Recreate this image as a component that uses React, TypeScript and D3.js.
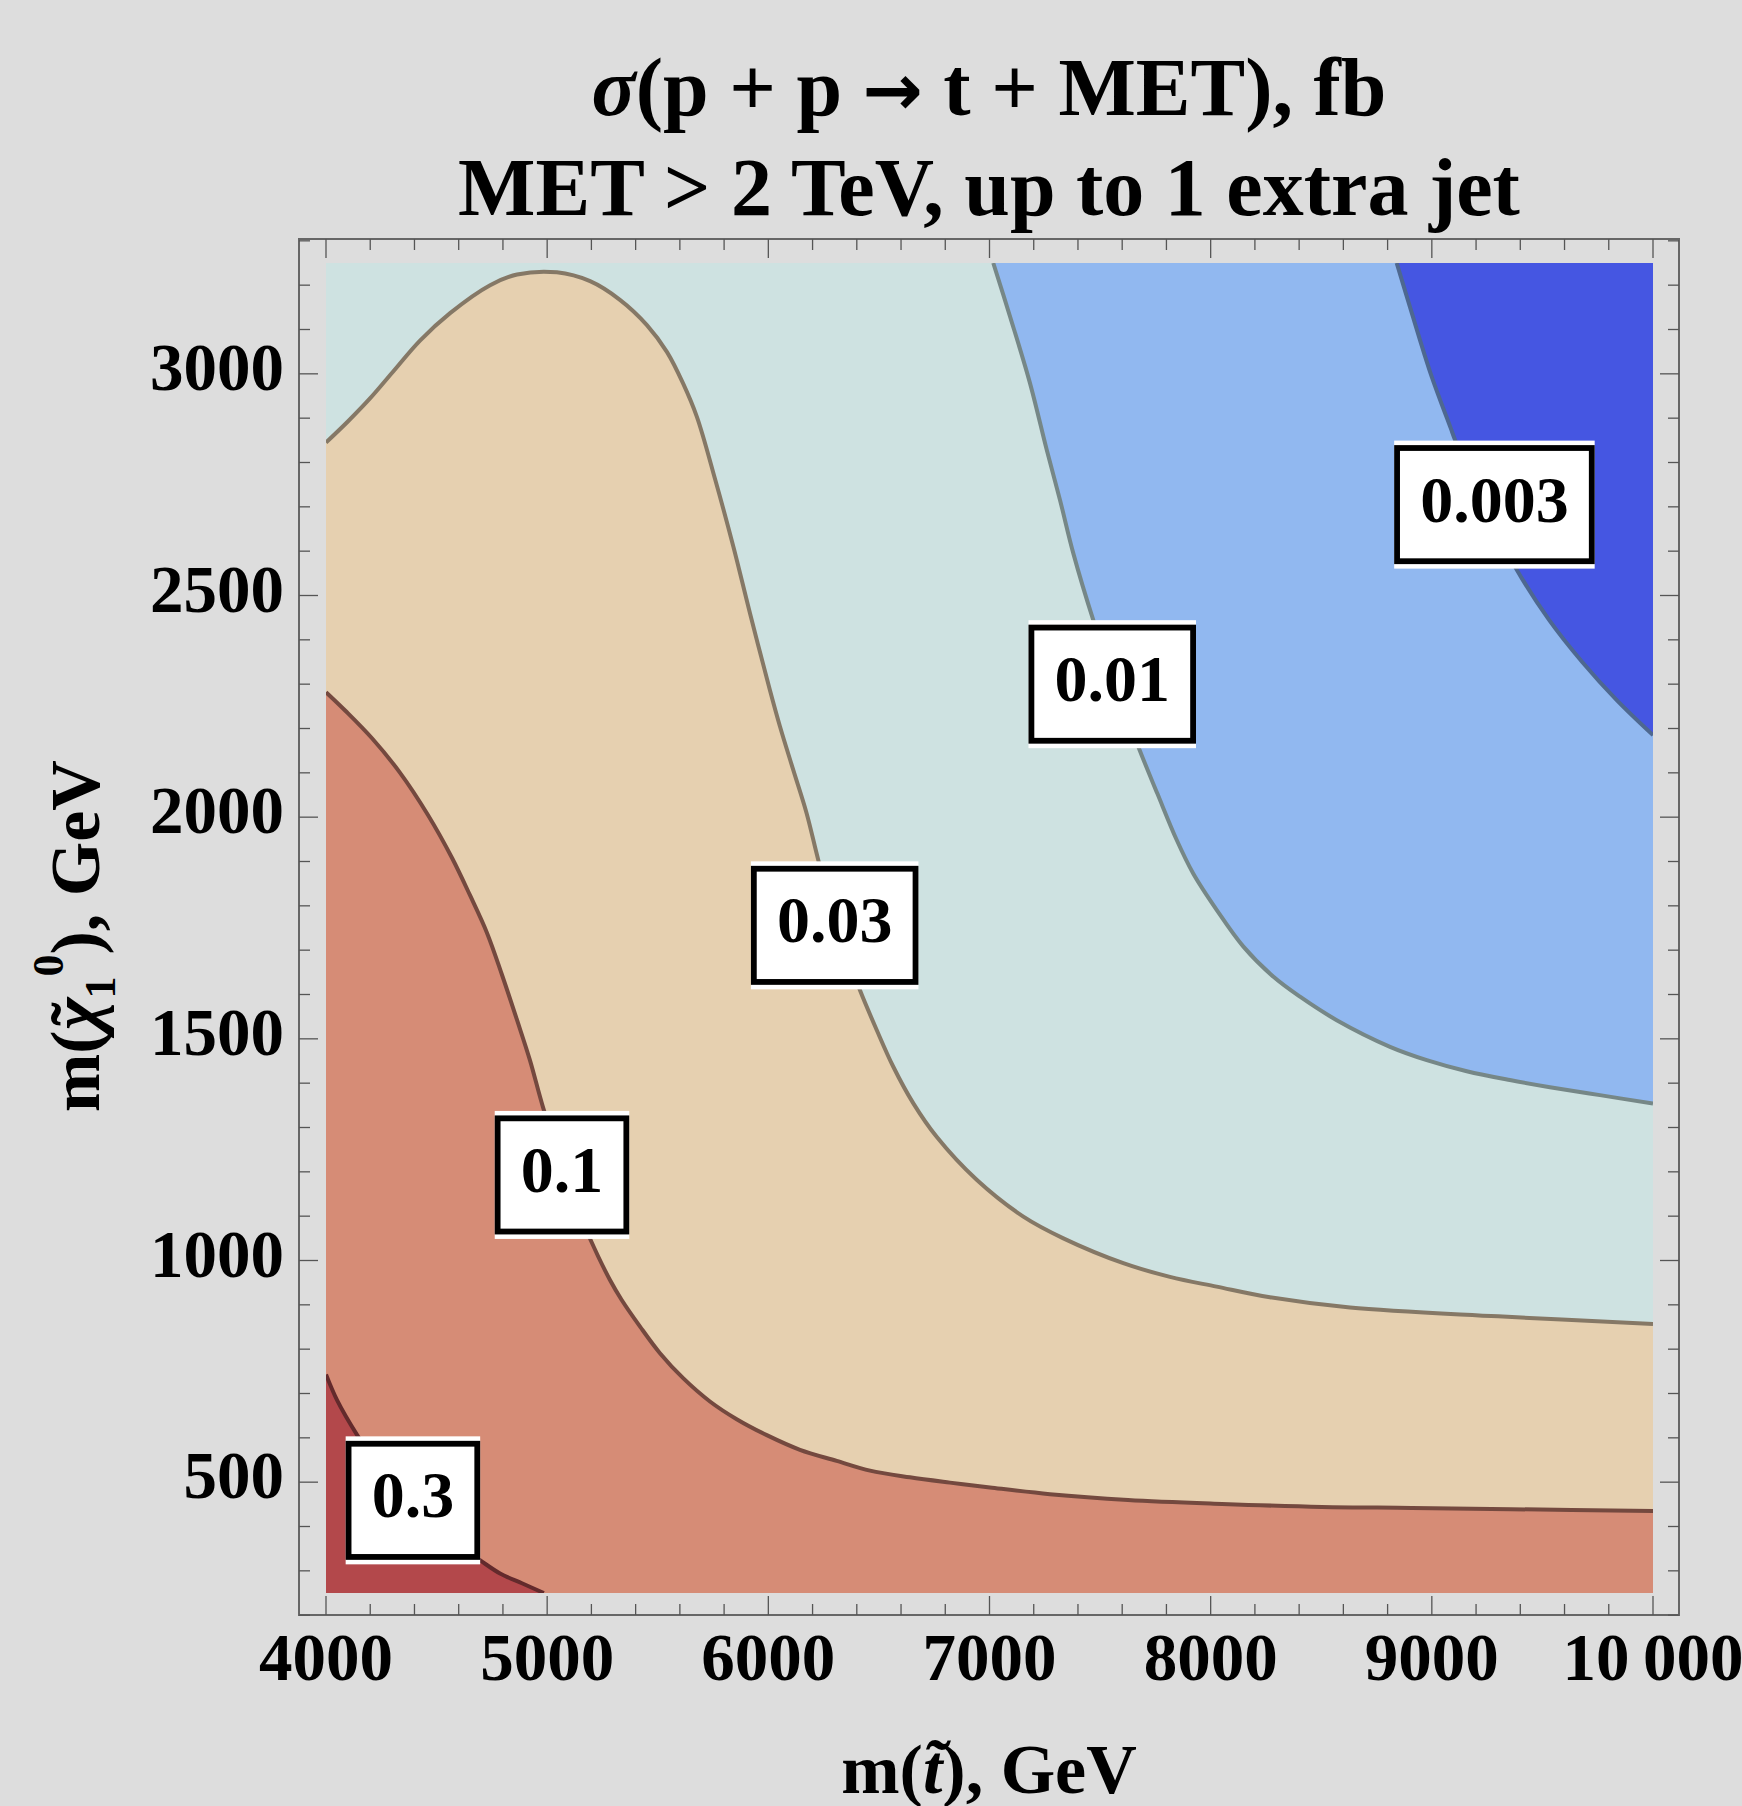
import React from "react";
import * as d3 from "d3";

// ---------- data ----------
// contour levels of sigma (fb) and their box labels
const levels = [0.3, 0.1, 0.03, 0.01, 0.003];
const levelLabels = ["0.3", "0.1", "0.03", "0.01", "0.003"];

// contour lines: [m(stop) GeV, m(neutralino) GeV]
const contour0p3 = [
  [4000, 743], [4050, 685], [4141, 606], [4250, 525], [4400, 440], [4550, 375],
  [4696, 324], [4787, 294], [4886, 272], [4985, 250],
];
const contour0p1 = [
  [4000, 2282], [4090, 2239], [4208, 2178], [4335, 2100], [4461, 2005], [4570, 1908],
  [4651, 1824], [4728, 1739], [4796, 1644], [4864, 1542], [4922, 1452], [4981, 1346],
  [5050, 1240], [5120, 1140], [5194, 1049], [5284, 956], [5337, 911], [5420, 851],
  [5510, 791], [5616, 734], [5736, 682], [5857, 642], [5993, 606], [6143, 573],
  [6309, 548], [6460, 526], [6640, 511], [6821, 499], [7002, 488], [7273, 473],
  [7626, 460], [8051, 451], [8503, 444], [8910, 442], [9358, 439], [10000, 435],
];
const contour0p03 = [
  [4000, 2845], [4100, 2893], [4200, 2945], [4300, 3003], [4425, 3075], [4561, 3137],
  [4742, 3200], [4864, 3224], [5044, 3229], [5194, 3209], [5329, 3167], [5451, 3110],
  [5542, 3049], [5614, 2979], [5677, 2903], [5760, 2761], [5842, 2610], [5917, 2460],
  [6007, 2287], [6053, 2204], [6113, 2106], [6173, 2009], [6226, 1903], [6280, 1805],
  [6345, 1705], [6414, 1610], [6490, 1520], [6565, 1437], [6655, 1355], [6761, 1279],
  [6942, 1182], [7153, 1099], [7334, 1050], [7605, 994], [7816, 963], [8027, 941],
  [8268, 917], [8630, 894], [9300, 874], [10000, 857],
];
const contour0p01 = [
  [7017, 3250], [7093, 3129], [7183, 2979], [7259, 2828], [7319, 2715], [7379, 2595],
  [7469, 2445], [7570, 2298], [7676, 2155], [7760, 2052], [7846, 1949], [7921, 1873],
  [8027, 1791], [8148, 1708], [8284, 1640], [8404, 1595], [8570, 1542], [8811, 1482],
  [8977, 1452], [9158, 1427], [9353, 1407], [9534, 1391], [9760, 1373], [10000, 1354],
];
const contour0p003 = [
  [8841, 3250], [8901, 3151], [8995, 3000], [9085, 2878], [9105, 2851], [9240, 2700],
  [9382, 2560], [9530, 2445], [9680, 2350], [9836, 2264], [10000, 2185],
];
const contours = [contour0p3, contour0p1, contour0p03, contour0p01, contour0p003];

// label anchors (data coordinates) for each level
const labelAnchors = [
  [4393, 459], [5067, 1193], [6300, 1756], [7555, 2300], [9283, 2705],
];

// axes
const xDomain = [4000, 10000];
const yDomain = [250, 3250];
const xTickValues = [4000, 5000, 6000, 7000, 8000, 9000, 10000];
const xTickLabels = ["4000", "5000", "6000", "7000", "8000", "9000", "10\u2009000"];
const yTickValues = [500, 1000, 1500, 2000, 2500, 3000];
const yTickLabels = ["500", "1000", "1500", "2000", "2500", "3000"];

// ---------- styles ----------
const fillColors = ["#b3484b", "#d68c76", "#e6d0b0", "#cee2e1", "#91b8f0"]; // region sigma > level
const baseColor = "#4556e2"; // sigma < 0.003
const lineColors = ["#632a2c", "#74493f", "#857866", "#768787", "#4e6890"];
const BG = "#dddddd";
const FONT = "'Liberation Serif','Times New Roman',Times,serif";

const W = 1742;
const H = 1806;

export default function App() {
  const x = d3.scaleLinear().domain(xDomain).range([326, 1653]);
  const y = d3.scaleLinear().domain(yDomain).range([1593, 263]);

  const frame = { x0: 299, x1: 1679, y0: 239, y1: 1615 };

  const line = d3
    .line<number[]>()
    .x((d) => x(d[0]))
    .y((d) => y(d[1]))
    .curve(d3.curveCatmullRom.alpha(0.5));

  const regionPath = (pts: number[][]) => {
    const first = pts[0];
    const last = pts[pts.length - 1];
    const corners: number[][] = [];
    if (last[0] >= xDomain[1]) corners.push([xDomain[1], yDomain[0]]);
    corners.push([xDomain[0], yDomain[0]]);
    if (first[1] >= yDomain[1]) corners.push([xDomain[0], yDomain[1]]);
    return (
      line(pts) +
      corners.map((c) => `L${x(c[0])},${y(c[1])}`).join("") +
      "Z"
    );
  };

  const xMinor = d3.range(4000, 10001, 200);
  const yMinor = d3.range(200, 3301, 100);
  const tickColor = "#555";

  const labelFont = 66;
  const textWidth = (s: string) =>
    s.split("").reduce((a, c) => a + (c === "." ? 0.25 : 0.5), 0) * labelFont;

  return (
    <svg
      width={W}
      height={H}
      style={{ position: "absolute", left: 0, top: 0, display: "block" }}
      xmlns="http://www.w3.org/2000/svg"
    >
      <rect x={0} y={0} width={W} height={H} fill={BG} />
      <defs>
        <clipPath id="plotClip">
          <rect
            x={x(xDomain[0])}
            y={y(yDomain[1])}
            width={x(xDomain[1]) - x(xDomain[0])}
            height={y(yDomain[0]) - y(yDomain[1])}
          />
        </clipPath>
      </defs>

      {/* title */}
      <g fontFamily={FONT} fontWeight="bold" fontSize={82} textAnchor="middle" fill="#000">
        <text x={989} y={115}>
          <tspan fontStyle="italic">σ</tspan>(p + p{" "}
          <tspan fontFamily="'DejaVu Sans','DejaVu Serif',sans-serif" fontSize={72}>→</tspan>{" "}
          t + MET), fb
        </text>
        <text x={989} y={215}>MET &gt; 2 TeV, up to 1 extra jet</text>
      </g>

      {/* contour fills */}
      <g clipPath="url(#plotClip)">
        <rect
          x={x(xDomain[0])}
          y={y(yDomain[1])}
          width={x(xDomain[1]) - x(xDomain[0])}
          height={y(yDomain[0]) - y(yDomain[1])}
          fill={baseColor}
        />
        {[4, 3, 2, 1, 0].map((i) => (
          <path key={"f" + i} d={regionPath(contours[i])} fill={fillColors[i]} stroke="none" />
        ))}
        {contours.map((c, i) => (
          <path
            key={"l" + i}
            d={line(c) || ""}
            fill="none"
            stroke={lineColors[i]}
            strokeWidth={4}
            strokeLinejoin="round"
          />
        ))}
      </g>

      {/* contour labels */}
      {levels.map((lv, i) => {
        const s = levelLabels[i];
        const cx = x(labelAnchors[i][0]);
        const cy = y(labelAnchors[i][1]);
        const bw = textWidth(s) + 52;
        const bh = 128;
        const sw = 5.8;
        return (
          <g key={"lab" + lv}>
            <rect x={cx - bw / 2} y={cy - bh / 2} width={bw} height={bh} fill="#fff" />
            <rect
              x={cx - bw / 2 + sw / 2}
              y={cy - bh / 2 + 4.5 + sw / 2}
              width={bw - sw}
              height={bh - 9 - sw}
              fill="none"
              stroke="#000"
              strokeWidth={sw}
            />
            <text
              x={cx}
              y={cy + 17}
              textAnchor="middle"
              fontFamily={FONT}
              fontWeight="bold"
              fontSize={labelFont}
              fill="#000"
            >
              {s}
            </text>
          </g>
        );
      })}

      {/* frame */}
      <rect
        x={frame.x0}
        y={frame.y0}
        width={frame.x1 - frame.x0}
        height={frame.y1 - frame.y0}
        fill="none"
        stroke="#666"
        strokeWidth={2}
      />
      {/* x ticks (bottom & top) */}
      {xMinor.map((v) => {
        const len = v % 1000 === 0 ? 19 : 11;
        const px = x(v);
        return (
          <g key={"xt" + v} stroke={tickColor} strokeWidth={1.3}>
            <line x1={px} x2={px} y1={frame.y1} y2={frame.y1 - len} />
            <line x1={px} x2={px} y1={frame.y0} y2={frame.y0 + len} />
          </g>
        );
      })}
      {/* y ticks (left & right) */}
      {yMinor.map((v) => {
        const len = v % 500 === 0 ? 19 : 11;
        const py = y(v);
        return (
          <g key={"yt" + v} stroke={tickColor} strokeWidth={1.3}>
            <line x1={frame.x0} x2={frame.x0 + len} y1={py} y2={py} />
            <line x1={frame.x1} x2={frame.x1 - len} y1={py} y2={py} />
          </g>
        );
      })}

      {/* tick labels */}
      <g fontFamily={FONT} fontWeight="bold" fontSize={67} fill="#000">
        {xTickValues.map((v, i) => (
          <text key={"xl" + v} x={x(v)} y={1680} textAnchor="middle">
            {xTickLabels[i]}
          </text>
        ))}
        {yTickValues.map((v, i) => (
          <text key={"yl" + v} x={284} y={y(v) + 16} textAnchor="end">
            {yTickLabels[i]}
          </text>
        ))}
      </g>

      {/* axis labels */}
      <g fontFamily={FONT} fontWeight="bold" fontSize={70} fill="#000">
        <text x={989} y={1793} textAnchor="middle">
          m(<tspan fontStyle="italic">t{"\u0303"}</tspan>), GeV
        </text>
        <text transform="translate(99,936) rotate(-90)" textAnchor="middle">
          m(<tspan fontStyle="italic">χ</tspan>
          <tspan dx={-28}>{"\u02dc"}</tspan>
          <tspan fontSize={44} dx={4} dy={16}>1</tspan>
          <tspan fontSize={44} dy={-52}>0</tspan>
          <tspan dy={36}>), GeV</tspan>
        </text>
      </g>
    </svg>
  );
}
